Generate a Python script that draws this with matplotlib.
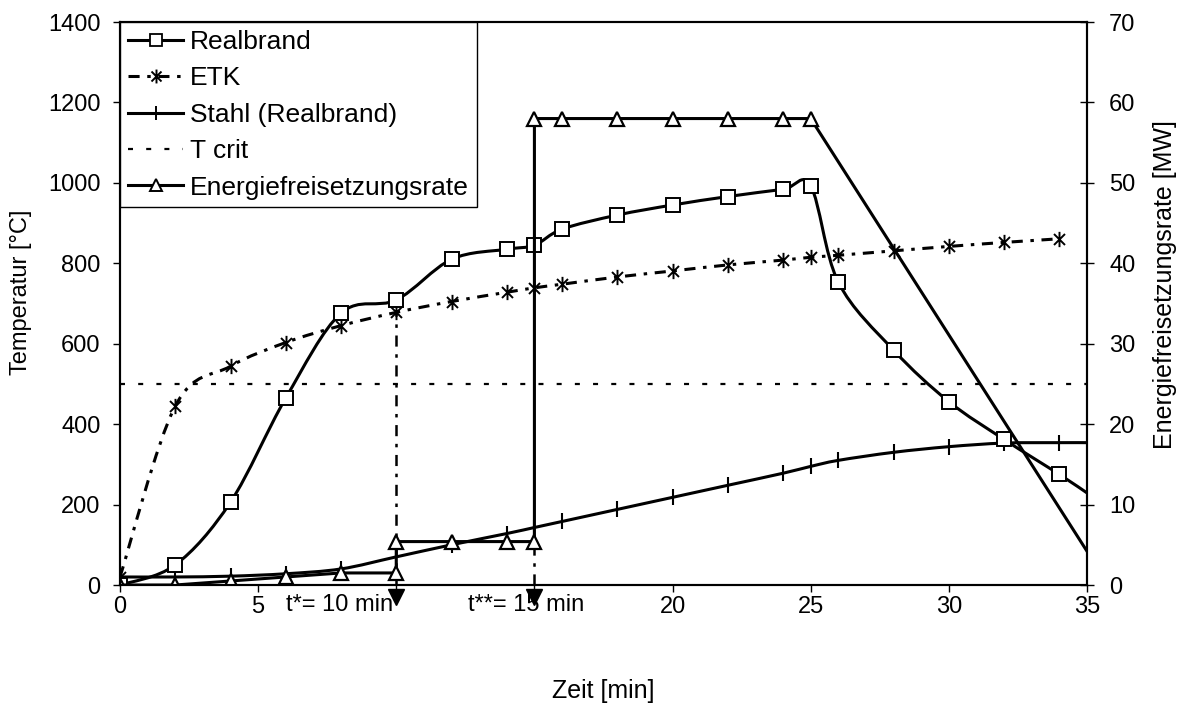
import numpy as np
import matplotlib
matplotlib.use("Agg")
import matplotlib.pyplot as plt
from matplotlib.path import Path
from matplotlib.patches import PathPatch
from matplotlib.lines import Line2D
from matplotlib.transforms import blended_transform_factory

plt.rcParams['font.family'] = ['Liberation Sans', 'DejaVu Sans']
plt.rcParams['lines.scale_dashes'] = False

# ---------------- data ----------------
x_real = [0, 2, 4, 6, 8, 10, 12, 14, 15, 16, 18, 20, 22, 24, 25, 26, 28, 30, 32, 34, 35]
realbrand = [0, 50, 206, 465, 676, 709, 810, 835, 845, 885, 920, 945, 966, 984, 992, 753, 584, 456, 362, 275, 229]

x_etk = [0, 2, 4, 6, 8, 10, 12, 14, 15, 16, 18, 20, 22, 24, 25, 26, 28, 30, 32, 34]
etk = [20, 445, 544, 603, 645, 678, 705, 728, 739, 748, 766, 781, 796, 808, 815, 820, 831, 842, 852, 861]

x_stahl = [0, 2, 4, 6, 8, 10, 12, 14, 15, 16, 18, 20, 22, 24, 25, 26, 28, 30, 32, 34, 35]
stahl = [20, 20, 22, 28, 40, 70, 100, 128, 143, 158, 188, 218, 248, 278, 295, 310, 330, 344, 353, 354, 354]

t_crit = 500

x_energie = [0, 2, 4, 6, 8, 10, 10, 12, 14, 15, 15, 16, 18, 20, 22, 24, 25, 35]
energie = [0, 0, 0.5, 1.0, 1.5, 1.5, 5.4, 5.4, 5.4, 5.4, 58, 58, 58, 58, 58, 58, 58, 4.2]

t_star = 10
t_star_top = 675
t_2star = 15
t_2star_top = 100

xticks = [0, 5, 10, 15, 20, 25, 30, 35]
xticklabels = ['0', '5', '', '', '20', '25', '30', '35']
yticks_left = [0, 200, 400, 600, 800, 1000, 1200, 1400]
yticks_right = [0, 10, 20, 30, 40, 50, 60, 70]

# ---------------- helpers ----------------
def smooth_path(x, y):
    pts = np.column_stack([x, y]).astype(float)
    verts = [pts[0]]
    codes = [Path.MOVETO]
    n = len(pts)
    for i in range(n - 1):
        p0 = pts[i - 1] if i > 0 else pts[i]
        p1 = pts[i]
        p2 = pts[i + 1]
        p3 = pts[i + 2] if i + 2 < n else pts[i + 1]
        c1 = p1 + (p2 - p0) / 6.0
        c2 = p2 - (p3 - p1) / 6.0
        verts += [c1, c2, p2]
        codes += [Path.CURVE4] * 3
    return Path(verts, codes)

FS = 17
FS_LEG = 19
LW = 2.2
ETK_DASH = (0, (8.0, 5.5, 2.5, 5.5))
TCRIT_DASH = (0, (3.6, 9.5))

asterisk = Path([(0, -1), (0, 1), (-0.72, -0.72), (0.72, 0.72), (-0.72, 0.72), (0.72, -0.72)],
                [Path.MOVETO, Path.LINETO, Path.MOVETO, Path.LINETO, Path.MOVETO, Path.LINETO])

fig = plt.figure(figsize=(11.81, 7.11), dpi=100)
ax = fig.add_axes([0.1016, 0.1772, 0.8188, 0.7918])
ax2 = ax.twinx()

ax.set_xlim(0, 35)
ax.set_ylim(0, 1400)
ax2.set_ylim(0, 70)

# T crit
ax.plot([0, 35], [t_crit, t_crit], color='k', lw=1.6, linestyle=TCRIT_DASH)

# t* and t** marker lines
ax.plot([t_star, t_star], [0, t_star_top], color='k', lw=1.8, linestyle=ETK_DASH)
ax.plot([t_2star, t_2star], [0, t_2star_top], color='k', lw=1.8, linestyle=ETK_DASH)

# ETK
ax.add_patch(PathPatch(smooth_path(x_etk, etk), fill=False, edgecolor='k', lw=LW,
                       linestyle=ETK_DASH))
ax.plot(x_etk, etk, linestyle='none', marker=asterisk, ms=11, mec='k', mew=1.4)

# Stahl
ax.add_patch(PathPatch(smooth_path(x_stahl, stahl), fill=False, edgecolor='k', lw=LW))
ax.plot(x_stahl[:-1], stahl[:-1], linestyle='none', marker='|', ms=11, mec='k', mew=1.5)

# Realbrand
ax.add_patch(PathPatch(smooth_path(x_real, realbrand), fill=False, edgecolor='k', lw=LW))
ax.plot(x_real[:-1], realbrand[:-1], linestyle='none', marker='s', ms=10, mfc='white',
        mec='k', mew=1.4)

# Energiefreisetzungsrate
ax2.plot(x_energie, energie, color='k', lw=LW)
ax2.plot(x_energie[:-1], energie[:-1], linestyle='none', marker='^', ms=10, mfc='white',
         mec='k', mew=1.6)

# ticks
ax.set_xticks(xticks)
ax.set_xticklabels(xticklabels)
ax.set_yticks(yticks_left)
ax2.set_yticks(yticks_right)
ax.tick_params(axis='x', direction='out', length=5, width=1, labelsize=FS, pad=3)
ax.tick_params(axis='y', direction='out', length=5, width=1, labelsize=FS, pad=9)
ax2.tick_params(axis='y', direction='inout', length=10, width=1, labelsize=FS, pad=11)

for a in (ax, ax2):
    for s in a.spines.values():
        s.set_linewidth(1.5)

# special tick labels and arrows
tr = blended_transform_factory(ax.transData, ax.transAxes)
ax.text(7.95, -0.036, 't*= 10 min', transform=tr, ha='center', va='center', fontsize=FS)
ax.text(14.7, -0.036, 't**= 15 min', transform=tr, ha='center', va='center', fontsize=FS)
ax.plot([t_star, t_2star], [-0.021, -0.021], transform=tr, linestyle='none', marker='v',
        ms=12, color='k', clip_on=False)

ax.set_xlabel('Zeit [min]', fontsize=18, labelpad=44)
ax.set_ylabel('Temperatur [°C]', fontsize=FS)
ax.yaxis.set_label_coords(-0.091, 0.52)
ax2.set_ylabel('Energiefreisetzungsrate [MW]', fontsize=18)
ax2.yaxis.set_label_coords(1.068, 0.533)

handles = [
    Line2D([], [], color='k', lw=LW, marker='s', ms=8, mfc='white', mec='k', mew=1.3),
    Line2D([], [], color='k', lw=LW, linestyle=ETK_DASH, marker=asterisk, ms=10, mec='k', mew=1.4),
    Line2D([], [], color='k', lw=LW, marker='|', ms=10, mec='k', mew=1.4),
    Line2D([], [], color='k', lw=1.6, linestyle=TCRIT_DASH),
    Line2D([], [], color='k', lw=LW, marker='^', ms=8, mfc='white', mec='k', mew=1.4),
]
labels = ['Realbrand', 'ETK', 'Stahl (Realbrand)', 'T crit', 'Energiefreisetzungsrate']
leg = ax2.legend(handles, labels, loc='upper left', bbox_to_anchor=(0, 1), borderaxespad=0,
                 fontsize=FS_LEG, frameon=True, fancybox=False, edgecolor='k',
                 handlelength=2.1, handletextpad=0.25, labelspacing=0.47, borderpad=0.3,
                 framealpha=1)
leg.get_frame().set_linewidth(1.0)

fig.savefig('out.png', dpi=100)
